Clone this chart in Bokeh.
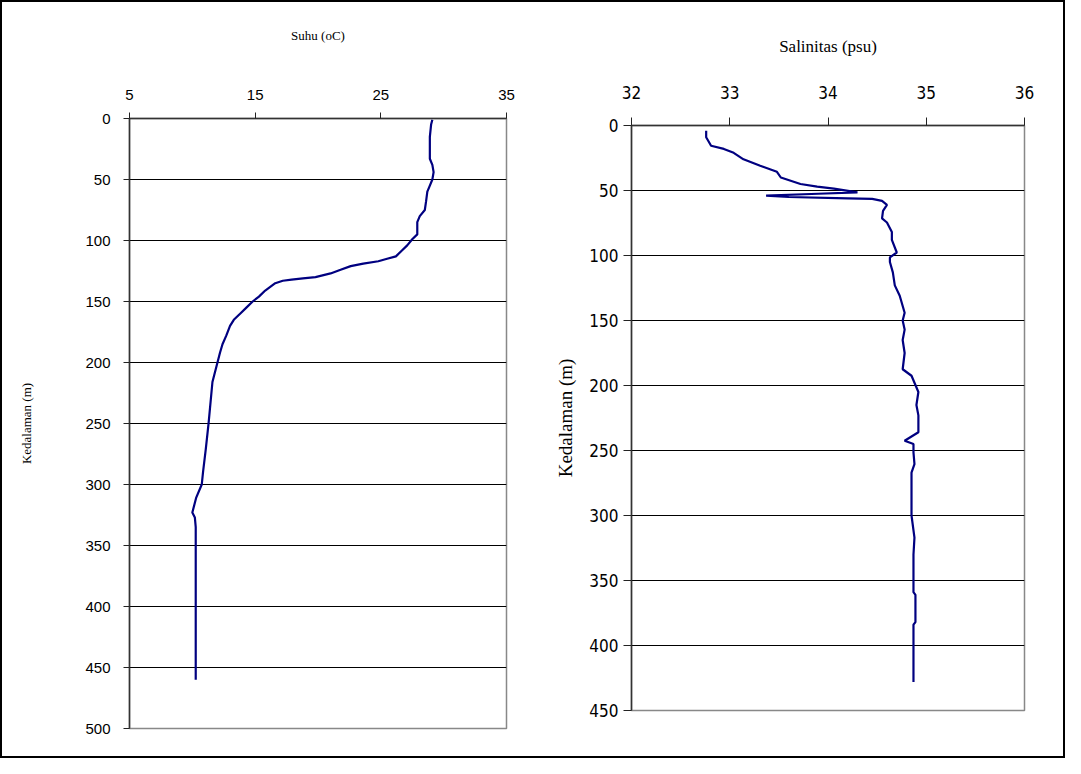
from bokeh.plotting import figure
from bokeh.layouts import row, column
from bokeh.models import Range1d, FixedTicker
from bokeh.embed import file_html
from bokeh.resources import INLINE

# --- Temperature profile (Suhu, oC) vs depth (m)
suhu_depth = [1, 5, 15, 30, 33, 38, 44, 50, 55, 60, 68, 75, 80, 85, 95, 99, 104, 108,
              113, 115, 117, 119, 121, 124, 127, 130, 131, 132, 133, 135, 138, 141, 146,
              150, 155, 160, 165, 170, 178, 185, 192, 200, 216, 249, 271, 289, 300, 311,
              323, 327, 335, 380, 420, 460]
suhu_temp = [29.1, 29.0, 28.9, 28.9, 28.9, 29.1, 29.2, 29.1, 28.9, 28.7, 28.6, 28.5, 28.1,
             27.9, 27.9, 27.5, 27.1, 26.7, 26.2, 25.5, 24.8, 23.6, 22.6, 21.8, 21.0, 19.8,
             18.8, 17.9, 17.2, 16.6, 16.2, 15.8, 15.3, 14.8, 14.3, 13.8, 13.3, 13.0, 12.7,
             12.4, 12.2, 12.0, 11.6, 11.3, 11.07, 10.86, 10.75, 10.3, 10.0, 10.2, 10.27,
             10.27, 10.27, 10.27]

# --- Salinity profile (Salinitas, psu) vs depth (m)
sal_depth = [4, 9, 15.6, 18, 21, 26, 31, 35.6, 40, 45, 47, 48.5, 51.5, 52.5, 54, 55, 56,
             56.5, 58, 61, 65.6, 71.5, 74.6, 82, 88, 97.7, 101.5, 105, 113, 123, 131, 144,
             150, 157, 165, 175, 187.5, 192.5, 205, 215, 223, 236, 242.5, 245, 251.5,
             260.5, 267, 300, 317, 330, 359, 361, 382, 384, 420, 428]
sal_val = [32.76, 32.76, 32.81, 32.94, 33.04, 33.14, 33.31, 33.48, 33.52, 33.72, 33.89,
           34.06, 34.30, 33.90, 33.37, 33.60, 34.20, 34.45, 34.55, 34.60, 34.56, 34.55,
           34.60, 34.65, 34.65, 34.70, 34.63, 34.63, 34.66, 34.68, 34.73, 34.78, 34.76,
           34.78, 34.76, 34.78, 34.76, 34.85, 34.92, 34.90, 34.92, 34.92, 34.78, 34.87,
           34.87, 34.88, 34.85, 34.85, 34.88, 34.87, 34.87, 34.89, 34.89, 34.87, 34.87,
           34.87]

suhu_xticks = [5, 15, 25, 35]
suhu_yticks = [0, 50, 100, 150, 200, 250, 300, 350, 400, 450, 500]
sal_xticks = [32, 33, 34, 35, 36]
sal_yticks = [0, 50, 100, 150, 200, 250, 300, 350, 400, 450]

LINE = "#000080"


def style(p, xticks, yticks, tick_font, tick_size, xtitle_font_size, ytitle_font_size,
          x_lbl_standoff, x_title_standoff, y_lbl_standoff, y_title_standoff, tick_out):
    p.xaxis.ticker = FixedTicker(ticks=xticks)
    p.yaxis.ticker = FixedTicker(ticks=yticks)
    for ax in (p.xaxis, p.yaxis):
        ax.minor_tick_line_color = None
        ax.major_tick_in = 0
        ax.major_tick_out = tick_out
        ax.major_tick_line_color = "#222222"
        ax.axis_line_color = "#333333"
        ax.axis_line_width = 1.5
        ax.major_label_text_font = tick_font
        ax.major_label_text_font_size = tick_size
        ax.major_label_text_color = "black"
        ax.axis_label_text_font = "Liberation Serif"
        ax.axis_label_text_font_style = "normal"
        ax.axis_label_text_color = "black"
    p.xaxis.axis_label_text_font_size = xtitle_font_size
    p.yaxis.axis_label_text_font_size = ytitle_font_size
    p.xaxis.major_label_standoff = x_lbl_standoff
    p.xaxis.axis_label_standoff = x_title_standoff
    p.yaxis.major_label_standoff = y_lbl_standoff
    p.yaxis.axis_label_standoff = y_title_standoff
    p.xgrid.grid_line_color = None
    p.ygrid.ticker = FixedTicker(ticks=yticks)
    p.ygrid.grid_line_color = "black"
    p.ygrid.grid_line_width = 1
    p.outline_line_color = "#888888"
    p.outline_line_width = 1.5
    p.background_fill_color = "white"
    p.border_fill_color = "white"
    if "frame_align" in p.properties():
        p.frame_align = False


# Left: temperature
p1 = figure(width=550, height=754, output_backend="svg", toolbar_location=None,
            x_axis_location="above", x_range=Range1d(5, 35), y_range=Range1d(500, 0),
            min_border_left=127, min_border_right=46, min_border_top=116,
            min_border_bottom=28)
p1.xaxis.axis_label = "Suhu (oC)"
p1.yaxis.axis_label = "Kedalaman (m)"
style(p1, suhu_xticks, suhu_yticks, "Liberation Sans", "15px", "13px", "13px",
      13, 44, 13, 48, 6)
p1.line(suhu_temp, suhu_depth, line_color=LINE, line_width=2.2)

# Right: salinity
p2 = figure(width=511, height=754, output_backend="svg", toolbar_location=None,
            x_axis_location="above", x_range=Range1d(32, 36), y_range=Range1d(450, 0),
            min_border_left=77, min_border_right=39, min_border_top=123,
            min_border_bottom=46)
p2.xaxis.axis_label = "Salinitas (psu)"
p2.yaxis.axis_label = "Kedalaman (m)"
style(p2, sal_xticks, sal_yticks, "DejaVu Sans Condensed", "17px", "17px", "19px",
      19, 27, 5, 10, 8)
p2.line(sal_val, sal_depth, line_color=LINE, line_width=2.2)

lay = row(column(p1), column(p2),
          styles={"border": "2px solid black", "background-color": "white"})

open("out.html", "w").write(file_html(lay, INLINE))
